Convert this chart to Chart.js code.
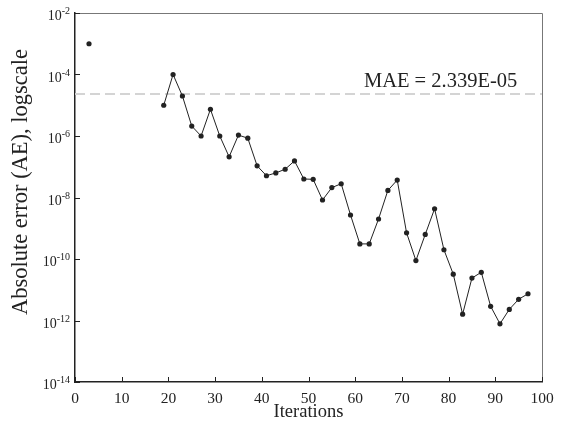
<!DOCTYPE html>
<html>
<head>
<meta charset="utf-8">
<script src="https://cdn.jsdelivr.net/npm/chart.js@4"></script>
<style>
  html, body { margin: 0; padding: 0; background: #fff; }
  canvas { display: block; }
</style>
</head>
<body>
<canvas id="c" width="569" height="423"></canvas>
<script>
const iterations = [3, 19, 21, 23, 25, 27, 29, 31, 33, 35, 37, 39, 41, 43, 45, 47, 49, 51, 53, 55,
  57, 59, 61, 63, 65, 67, 69, 71, 73, 75, 77, 79, 81, 83, 85, 87, 89, 91, 93, 95, 97];
const absError = [1.0e-3, 1.0e-5, 1.0e-4, 2.0e-5, 2.1e-6, 1.0e-6, 7.4e-6, 1.0e-6, 2.1e-7, 1.07e-6,
  8.5e-7, 1.07e-7, 5.1e-8, 6.3e-8, 8.3e-8, 1.55e-7, 4.0e-8, 3.9e-8, 8.3e-9, 2.1e-8,
  2.8e-8, 2.7e-9, 3.1e-10, 3.1e-10, 2.0e-9, 1.7e-8, 3.7e-8, 7.1e-10, 8.9e-11, 6.3e-10,
  4.3e-9, 2.0e-10, 3.2e-11, 1.6e-12, 2.4e-11, 3.7e-11, 2.9e-12, 7.8e-13, 2.3e-12, 4.9e-12, 7.4e-12];
const mae = 2.339e-5;
const maeLabel = 'MAE = 2.339E-05';
const yExponents = [-2, -4, -6, -8, -10, -12, -14];
const xTicks = [0, 10, 20, 30, 40, 50, 60, 70, 80, 90, 100];

const serif = '"Liberation Serif", "DejaVu Serif", serif';
Chart.defaults.font.family = serif;
Chart.defaults.color = '#222';

// ticks drawn inside, log labels with superscripts, frame, MAE text
const decor = {
  id: 'decor',
  afterDraw(chart) {
    const ctx = chart.ctx;
    const a = chart.chartArea;
    const xs = chart.scales.x, ys = chart.scales.y;
    ctx.save();
    ctx.strokeStyle = '#777';
    ctx.lineWidth = 1;
    ctx.beginPath();
    ctx.moveTo(a.left, a.top + 0.5);
    ctx.lineTo(a.right + 0.5, a.top + 0.5);
    ctx.lineTo(a.right + 0.5, a.bottom);
    ctx.stroke();

    ctx.strokeStyle = '#222';
    ctx.beginPath();
    xTicks.forEach(v => {
      const px = Math.round(xs.getPixelForValue(v)) + 0.5;
      ctx.moveTo(px, a.bottom);
      ctx.lineTo(px, a.bottom - 5);
    });
    yExponents.forEach(e => {
      const py = Math.round(ys.getPixelForValue(Math.pow(10, e))) + 0.5;
      ctx.moveTo(a.left, py);
      ctx.lineTo(a.left + 5, py);
    });
    ctx.stroke();

    ctx.fillStyle = '#222';
    yExponents.forEach(e => {
      const py = ys.getPixelForValue(Math.pow(10, e));
      const sup = String(e);
      ctx.font = '10px ' + serif;
      ctx.textAlign = 'right';
      ctx.textBaseline = 'alphabetic';
      const w = ctx.measureText(sup).width;
      ctx.fillText(sup, a.left - 5, py + 1);
      ctx.font = '14px ' + serif;
      ctx.fillText('10', a.left - 5 - w, py + 7);
    });

    ctx.font = '22.5px ' + serif;
    ctx.save();
    ctx.translate(27, 182);
    ctx.rotate(-Math.PI / 2);
    ctx.textAlign = 'center';
    ctx.fillText('Absolute error (AE), logscale', 0, 0);
    ctx.restore();

    ctx.font = '20.5px ' + serif;
    ctx.textAlign = 'right';
    ctx.fillText(maeLabel, xs.getPixelForValue(94.7), ys.getPixelForValue(mae) - 7);
    ctx.restore();
  }
};

new Chart(document.getElementById('c'), {
  type: 'line',
  data: {
    datasets: [{
      data: iterations.map((x, i) => ({ x: x, y: absError[i] })),
      borderColor: '#222',
      backgroundColor: '#222',
      borderWidth: 1,
      pointRadius: 2.6,
      pointBorderWidth: 0,
      tension: 0,
      segment: {
        borderColor: c => (c.p1.parsed.x - c.p0.parsed.x > 2 ? 'rgba(0,0,0,0)' : '#222')
      }
    }, {
      data: [{ x: 0, y: mae }, { x: 100, y: mae }],
      borderColor: '#d4d4d4',
      borderWidth: 2,
      borderDash: [10, 5],
      pointRadius: 0
    }]
  },
  options: {
    responsive: false,
    animation: false,
    devicePixelRatio: 1,
    layout: { padding: { left: 0, right: 27, top: 13, bottom: 0 } },
    plugins: { legend: { display: false }, tooltip: { enabled: false } },
    scales: {
      x: {
        type: 'linear',
        min: 0,
        max: 100,
        afterBuildTicks: s => { s.ticks = xTicks.map(v => ({ value: v })); },
        afterFit: s => { s.height = 41; },
        grid: { display: false },
        border: { display: true, color: '#222', width: 1.5 },
        ticks: { font: { size: 15.5 }, padding: 0, maxRotation: 0, autoSkip: false },
        title: { display: true, text: 'Iterations', font: { size: 18.5 }, padding: { top: 0, bottom: 0 } }
      },
      y: {
        type: 'logarithmic',
        min: 1e-14,
        max: 1e-2,
        afterBuildTicks: s => { s.ticks = yExponents.map(e => ({ value: Math.pow(10, e) })); },
        afterFit: s => { s.width = 75; },
        grid: { display: false },
        border: { display: true, color: '#222', width: 1.5 },
        ticks: { callback: () => '' }
      }
    }
  },
  plugins: [decor]
});
</script>
</body>
</html>
